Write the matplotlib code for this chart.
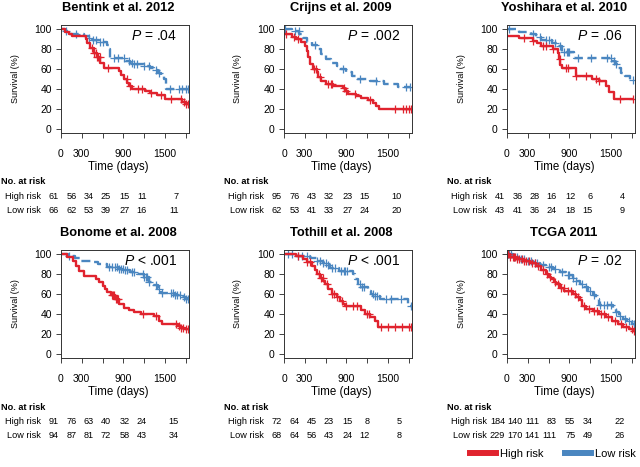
import numpy as np
import matplotlib
matplotlib.use("Agg")
import matplotlib.pyplot as plt
from matplotlib.lines import Line2D

plt.rcParams['font.family'] = ['Liberation Sans', 'DejaVu Sans']
plt.rcParams['mathtext.fontset'] = 'custom'
plt.rcParams['mathtext.it'] = 'Liberation Sans:italic'
plt.rcParams['mathtext.rm'] = 'Liberation Sans'

RED = '#e0232e'
BLUE = '#4a86c0'

titles = ["Bentink et al. 2012", "Crijns et al. 2009", "Yoshihara et al. 2010",
          "Bonome et al. 2008", "Tothill et al. 2008", "TCGA 2011"]
pvals = [r"$P$ = .04", r"$P$ = .002", r"$P$ = .06",
         r"$P$ < .001", r"$P$ < .001", r"$P$ = .02"]

# Bentink et al. 2012
bentink_red_t = [0, 60, 110, 160, 355, 380, 425, 470, 520, 565, 615, 835, 860, 905, 955, 985, 1030, 1220, 1290, 1390, 1510, 1750, 1800]
bentink_red_s = [100, 97, 95, 93, 90, 86, 81, 76, 72, 66, 61, 58, 54, 50, 46, 43, 40, 38, 36, 34, 30, 27, 25]
bentink_red_c = [450, 480, 500, 520, 540, 560, 680, 950, 1000, 1120, 1170, 1300, 1450, 1590, 1740, 1780, 1810, 1830]
bentink_blue_t = [0, 60, 130, 330, 400, 450, 545, 660, 690, 715, 930, 1000, 1060, 1200, 1290, 1340, 1400, 1440, 1490, 1515]
bentink_blue_s = [100, 98, 95, 93, 91, 89, 87, 84, 80, 71, 68, 66, 65, 63, 61, 59, 56, 53, 50, 40]
bentink_blue_c = [70, 220, 410, 460, 500, 560, 600, 770, 820, 910, 990, 1030, 1060, 1100, 1200, 1270, 1370, 1420, 1580, 1700, 1750, 1800, 1840]

# Crijns et al. 2009
crijns_red_t = [0, 110, 180, 250, 300, 330, 350, 375, 420, 470, 495, 540, 610, 710, 850, 880, 920, 1040, 1110, 1210, 1280, 1330, 1380]
crijns_red_s = [95, 92, 90, 87, 83, 78, 72, 65, 60, 57, 52, 48, 45, 43, 41, 38, 35, 33, 31, 29, 26, 23, 20]
crijns_red_c = [30, 150, 200, 430, 460, 520, 640, 680, 700, 860, 900, 1020, 1250, 1600, 1720, 1760, 1800, 1840]
crijns_blue_t = [0, 120, 220, 280, 330, 400, 480, 540, 600, 680, 760, 820, 900, 980, 1050, 1250, 1450, 1650]
crijns_blue_s = [100, 98, 95, 91, 87, 84, 80, 75, 70, 66, 63, 60, 57, 53, 50, 48, 45, 42]
crijns_blue_c = [20, 160, 210, 450, 850, 1100, 1330, 1770, 1820]

# Yoshihara et al. 2010
yoshihara_red_t = [0, 180, 370, 440, 490, 660, 730, 755, 770, 800, 995, 1235, 1330, 1425, 1475, 1545]
yoshihara_red_s = [93, 91, 88, 86, 83, 80, 76, 70, 64, 61, 53, 50, 48, 43, 37, 30]
yoshihara_red_c = [250, 370, 520, 560, 660, 760, 850, 875, 1000, 1140, 1280, 1330, 1640, 1820]
yoshihara_blue_t = [0, 180, 340, 420, 490, 650, 730, 800, 970, 1510, 1560, 1600, 1650, 1700, 1780]
yoshihara_blue_s = [100, 97, 95, 92, 89, 86, 83, 77, 71, 68, 65, 61, 56, 53, 49]
yoshihara_blue_c = [30, 380, 480, 560, 600, 690, 760, 820, 860, 880, 900, 1030, 1220, 1440, 1500, 1540, 1580, 1820]

# Bonome et al. 2008
bonome_red_t = [0, 90, 170, 215, 265, 335, 500, 550, 600, 640, 670, 720, 780, 840, 910, 980, 1060, 1150, 1340, 1420, 1465, 1690, 1740, 1790]
bonome_red_s = [100, 97, 93, 88, 83, 78, 75, 72, 68, 65, 62, 59, 55, 50, 46, 44, 42, 40, 38, 33, 30, 28, 26, 25]
bonome_red_c = [730, 750, 770, 790, 810, 830, 1180, 1370, 1660, 1700, 1740, 1770, 1800, 1830]
bonome_blue_t = [0, 100, 200, 290, 430, 530, 670, 840, 930, 1000, 1100, 1200, 1270, 1330, 1400, 1440, 1640, 1730, 1800]
bonome_blue_s = [100, 98, 96, 93, 92, 90, 87, 85, 84, 82, 80, 77, 72, 69, 65, 61, 59, 57, 55]
bonome_blue_c = [120, 700, 740, 780, 810, 840, 870, 900, 930, 960, 1030, 1060, 1180, 1200, 1230, 1250, 1270,
                 1380, 1420, 1460, 1590, 1620, 1650, 1680, 1720, 1780, 1810, 1840]

# Tothill et al. 2008
tothill_red_t = [0, 180, 280, 330, 400, 445, 470, 520, 565, 590, 640, 690, 760, 805, 855, 880, 1120, 1165, 1240, 1310, 1360]
tothill_red_s = [100, 98, 95, 92, 88, 84, 80, 76, 73, 70, 65, 60, 57, 53, 50, 48, 44, 40, 37, 33, 27]
tothill_red_c = [200, 330, 380, 500, 530, 560, 620, 700, 720, 760, 840, 900, 1000, 1050, 1200, 1230, 1400, 1500, 1600, 1700, 1800, 1840]
tothill_blue_t = [0, 190, 380, 470, 560, 620, 670, 800, 1000, 1025, 1070, 1120, 1210, 1260, 1290, 1385, 1790]
tothill_blue_s = [100, 98, 96, 93, 91, 89, 86, 83, 80, 75, 70, 67, 63, 60, 58, 55, 48]
tothill_blue_c = [60, 120, 200, 260, 330, 480, 520, 570, 600, 640, 700, 740, 830, 860, 880, 910, 1100, 1130,
                  1160, 1280, 1310, 1340, 1480, 1550, 1690, 1840]

# TCGA 2011
tcga_red_t = [0, 40, 130, 230, 330, 420, 490, 560, 600, 640, 680, 710, 760, 830, 950, 1000, 1050, 1090, 1140,
              1240, 1330, 1430, 1520, 1600, 1670, 1760, 1820]
tcga_red_s = [100, 97, 95, 93, 91, 88, 84, 80, 77, 75, 72, 70, 66, 63, 60, 57, 54, 48, 45, 43, 40, 37, 33, 30, 27, 25, 23]
tcga_red_c = [20, 50, 80, 100, 120, 150, 180, 210, 250, 280, 320, 360, 400, 450, 520, 580, 620, 700, 740, 780,
              820, 880, 920, 980, 1020, 1120, 1180, 1260, 1300, 1360, 1400, 1460, 1560, 1650, 1720, 1800, 1840]
tcga_blue_t = [0, 90, 180, 280, 370, 470, 570, 660, 760, 850, 950, 1000, 1050, 1090, 1170, 1240, 1290, 1330,
               1530, 1570, 1620, 1670, 1730, 1810]
tcga_blue_s = [100, 97, 95, 93, 91, 89, 87, 85, 82, 79, 76, 73, 70, 67, 63, 59, 55, 49, 45, 42, 38, 35, 33, 30]
tcga_blue_c = [10, 30, 60, 100, 140, 200, 240, 300, 340, 400, 440, 520, 600, 640, 700, 800, 880, 900, 960, 1000,
               1080, 1140, 1200, 1260, 1350, 1400, 1450, 1500, 1580, 1640, 1700, 1760, 1840]

# numbers at risk
risk_high = [[61, 56, 34, 25, 15, 11, 7], [95, 76, 43, 32, 23, 15, 10], [41, 36, 28, 16, 12, 6, 4],
             [91, 76, 63, 40, 32, 24, 15], [72, 64, 45, 23, 15, 8, 5], [184, 140, 111, 83, 55, 34, 22]]
risk_low = [[66, 62, 53, 39, 27, 16, 11], [62, 53, 41, 33, 27, 24, 20], [43, 41, 36, 24, 18, 15, 9],
            [94, 87, 81, 72, 58, 43, 34], [68, 64, 56, 43, 24, 12, 8], [229, 170, 141, 111, 75, 49, 26]]

curves = [
    (bentink_red_t, bentink_red_s, bentink_red_c, bentink_blue_t, bentink_blue_s, bentink_blue_c),
    (crijns_red_t, crijns_red_s, crijns_red_c, crijns_blue_t, crijns_blue_s, crijns_blue_c),
    (yoshihara_red_t, yoshihara_red_s, yoshihara_red_c, yoshihara_blue_t, yoshihara_blue_s, yoshihara_blue_c),
    (bonome_red_t, bonome_red_s, bonome_red_c, bonome_blue_t, bonome_blue_s, bonome_blue_c),
    (tothill_red_t, tothill_red_s, tothill_red_c, tothill_blue_t, tothill_blue_s, tothill_blue_c),
    (tcga_red_t, tcga_red_s, tcga_red_c, tcga_blue_t, tcga_blue_s, tcga_blue_c),
]

W, H = 640, 467
AX_W, AX_H = 128, 108
lefts = [61, 284, 507]
bottoms = [133, 358]
# column right edges of the risk table, px from the axes left
risk_cols = [-2, 15.5, 32.6, 49.7, 68.4, 85.5, 118]


def km(ax, t, s, c, color, ls):
    end = max(max(c), t[-1])
    tt = list(t) + [end]
    ss = list(s) + [s[-1]]
    ax.step(tt, ss, where='post', color=color, lw=1.7, linestyle=ls, solid_capstyle='butt')
    idx = np.searchsorted(t, c, side='right') - 1
    ax.plot(c, np.array(s)[idx], linestyle='none', marker='+', ms=6, mew=0.9, color=color)


fig = plt.figure(figsize=(W / 100, H / 100), dpi=100)

for i in range(6):
    row, col = divmod(i, 3)
    x0 = lefts[col]
    y0 = bottoms[row]
    ax = fig.add_axes([x0 / W, 1 - y0 / H, AX_W / W, AX_H / H])
    rt, rs, rc, bt, bs, bc = curves[i]
    km(ax, bt, bs, bc, BLUE, (0, (3.8, 2.0)))
    km(ax, rt, rs, rc, RED, '-')

    ax.set_xlim(0, 1850)
    ax.set_ylim(-4, 104.5)
    ax.set_xticks([0, 300, 600, 900, 1200, 1500, 1800])
    ax.set_xticklabels(["0", "300", "", "900", "", "1500", ""])
    ax.set_yticks([0, 20, 40, 60, 80, 100])
    ax.tick_params(axis='both', direction='out', length=3.6, width=0.6, labelsize=7.5, color='#222222')
    ax.tick_params(axis='x', pad=8)
    ax.tick_params(axis='y', pad=3)
    for sp in ax.spines.values():
        sp.set_linewidth(0.7)
        sp.set_color('#333333')

    ax.text(0.445, 125 / AX_H, titles[i], transform=ax.transAxes, ha='center', va='center',
            fontsize=9.3, fontweight='bold')
    ax.text(0.445, -34 / AX_H, "Time (days)", transform=ax.transAxes, ha='center', va='center', fontsize=8.3)
    ax.text(-46 / AX_W, 0.5, "Survival (%)", transform=ax.transAxes, ha='center', va='center',
            rotation=90, fontsize=6.5, family=['Liberation Sans Narrow', 'Liberation Sans'])
    ax.text(1 - 12 / AX_W, 0.895, pvals[i], transform=ax.transAxes, ha='right', va='center', fontsize=10)

    # number at risk table
    ax.text(-60 / AX_W, -49 / AX_H, "No. at risk", transform=ax.transAxes, ha='left', va='center',
            fontsize=6.6, fontweight='bold')
    ax.text(-20 / AX_W, -64 / AX_H, "High risk", transform=ax.transAxes, ha='right', va='center', fontsize=6.6)
    ax.text(-20 / AX_W, -78 / AX_H, "Low risk", transform=ax.transAxes, ha='right', va='center', fontsize=6.6)
    for k in range(7):
        ax.text(risk_cols[k] / AX_W, -64 / AX_H, str(risk_high[i][k]), transform=ax.transAxes,
                ha='right', va='center', fontsize=6.6)
        ax.text(risk_cols[k] / AX_W, -78 / AX_H, str(risk_low[i][k]), transform=ax.transAxes,
                ha='right', va='center', fontsize=6.6)

handles = [Line2D([], [], color=RED, lw=4.3), Line2D([], [], color=BLUE, lw=4.3)]
fig.legend(handles, ["High risk", "Low risk"], loc='center', bbox_to_anchor=(553 / W, 1 - 454 / H),
           ncol=2, frameon=False, fontsize=8, handlelength=2.3, handletextpad=0.35, columnspacing=2.0)

fig.savefig("out.png", dpi=100)
